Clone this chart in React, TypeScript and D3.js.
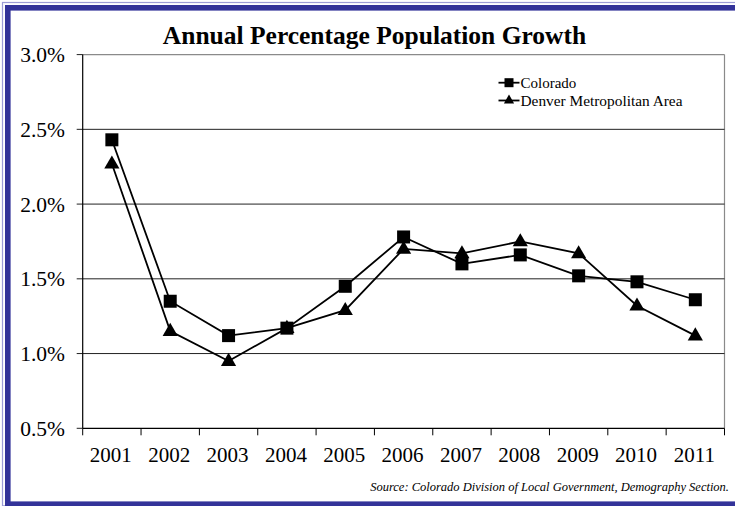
import React from "react";
import * as d3 from "d3";

// Annual population growth, percent
const years = ["2001", "2002", "2003", "2004", "2005", "2006", "2007", "2008", "2009", "2010", "2011"];
const colorado = [2.43, 1.35, 1.12, 1.17, 1.45, 1.78, 1.6, 1.66, 1.52, 1.48, 1.36];
const denver = [2.27, 1.15, 0.95, 1.17, 1.29, 1.7, 1.67, 1.75, 1.67, 1.32, 1.12];
const yTicks = [0.5, 1.0, 1.5, 2.0, 2.5, 3.0];
const seriesNames = ["Colorado", "Denver Metropolitan Area"];

const W = 735;
const H = 506;
const plot = { left: 82.7, right: 724.5, top: 54.6, bottom: 428.3 };
const FONT = "'Liberation Serif', 'Times New Roman', serif";

export default function App() {
  const x = d3.scaleBand<string>().domain(years).range([plot.left, plot.right]).padding(0);
  const y = d3.scaleLinear().domain([0.5, 3.0]).range([plot.bottom, plot.top]);
  const cx = (yr: string) => (x(yr) as number) + x.bandwidth() / 2;

  const line = d3
    .line<number>()
    .x((_, i) => cx(years[i]))
    .y((v) => y(v));

  const sq = 13;
  const tri = d3.symbol().type(d3.symbolTriangle).size(100)() as string;
  const triSmall = d3.symbol().type(d3.symbolTriangle).size(45)() as string;

  const boundaries = [...years.map((yr) => x(yr) as number), plot.right];

  return (
    <svg
      width={W}
      height={H}
      viewBox={`0 0 ${W} ${H}`}
      style={{ position: "absolute", left: 0, top: 0, background: "#fff" }}
      fontFamily={FONT}
    >
      {/* frame */}
      <rect x={0} y={0} width={W} height={H} fill="#fff" />
      <rect x={2.5} y={2.5} width={W + 10} height={503.3} fill="none" stroke="#9d9dd6" strokeWidth={1.2} />
      <rect x={7.8} y={7.8} width={W + 10} height={496.4} fill="none" stroke="#333399" strokeWidth={5.6} />

      {/* title */}
      <text x={374.5} y={44} textAnchor="middle" fontSize={25.5} fontWeight="bold" fill="#000">
        Annual Percentage Population Growth
      </text>

      {/* plot border */}
      <line x1={plot.left} x2={plot.right} y1={plot.top} y2={plot.top} stroke="#8a8a8a" strokeWidth={1.2} />
      <line x1={plot.right} x2={plot.right} y1={plot.top} y2={plot.bottom} stroke="#8a8a8a" strokeWidth={1.2} />

      {/* gridlines and y labels */}
      {yTicks.map((t) => (
        <g key={t}>
          {t > 0.5 && t < 3.0 && (
            <line x1={plot.left} x2={plot.right} y1={y(t)} y2={y(t)} stroke="#222" strokeWidth={1} />
          )}
          <line x1={plot.left - 6} x2={plot.left} y1={y(t)} y2={y(t)} stroke="#222" strokeWidth={1} />
          <text x={65} y={y(t) + 7.5} textAnchor="end" fontSize={21.5} fill="#000">
            {d3.format(".1f")(t)}%
          </text>
        </g>
      ))}

      {/* axes */}
      <line x1={plot.left} x2={plot.left} y1={plot.top} y2={plot.bottom} stroke="#000" strokeWidth={1.2} />
      <line x1={plot.left} x2={plot.right} y1={plot.bottom} y2={plot.bottom} stroke="#000" strokeWidth={1.2} />
      {boundaries.map((b, i) => (
        <line key={i} x1={b} x2={b} y1={plot.bottom} y2={plot.bottom + 7} stroke="#000" strokeWidth={1} />
      ))}
      {years.map((yr) => (
        <text key={yr} x={cx(yr) - 1} y={461.5} textAnchor="middle" fontSize={21} fill="#000">
          {yr}
        </text>
      ))}

      {/* series lines */}
      <path d={line(denver) as string} fill="none" stroke="#000" strokeWidth={1.8} />
      <path d={line(colorado) as string} fill="none" stroke="#000" strokeWidth={1.8} />

      {/* markers */}
      {denver.map((v, i) => (
        <path key={"d" + i} d={tri} transform={`translate(${cx(years[i])},${y(v) + 0.5})`} fill="#000" />
      ))}
      {colorado.map((v, i) => (
        <rect key={"c" + i} x={cx(years[i]) - sq / 2} y={y(v) - sq / 2} width={sq} height={sq} fill="#000" />
      ))}

      {/* legend */}
      <g fontSize={15} fill="#000">
        <line x1={498.5} x2={519.5} y1={82.7} y2={82.7} stroke="#000" strokeWidth={1.8} />
        <rect x={509 - 4.5} y={82.7 - 4.5} width={9} height={9} fill="#000" />
        <text x={520.5} y={88}>{seriesNames[0]}</text>
        <line x1={498.5} x2={519.5} y1={100.5} y2={100.5} stroke="#000" strokeWidth={1.8} />
        <path d={triSmall} transform={`translate(509,100.5)`} fill="#000" />
        <text x={520.5} y={106} textLength={162} lengthAdjust="spacingAndGlyphs">
          {seriesNames[1]}
        </text>
      </g>

      {/* source note */}
      <text x={729} y={491} textAnchor="end" fontSize={12.5} fontStyle="italic" fill="#000">
        Source: Colorado Division of Local Government, Demography Section.
      </text>
    </svg>
  );
}
